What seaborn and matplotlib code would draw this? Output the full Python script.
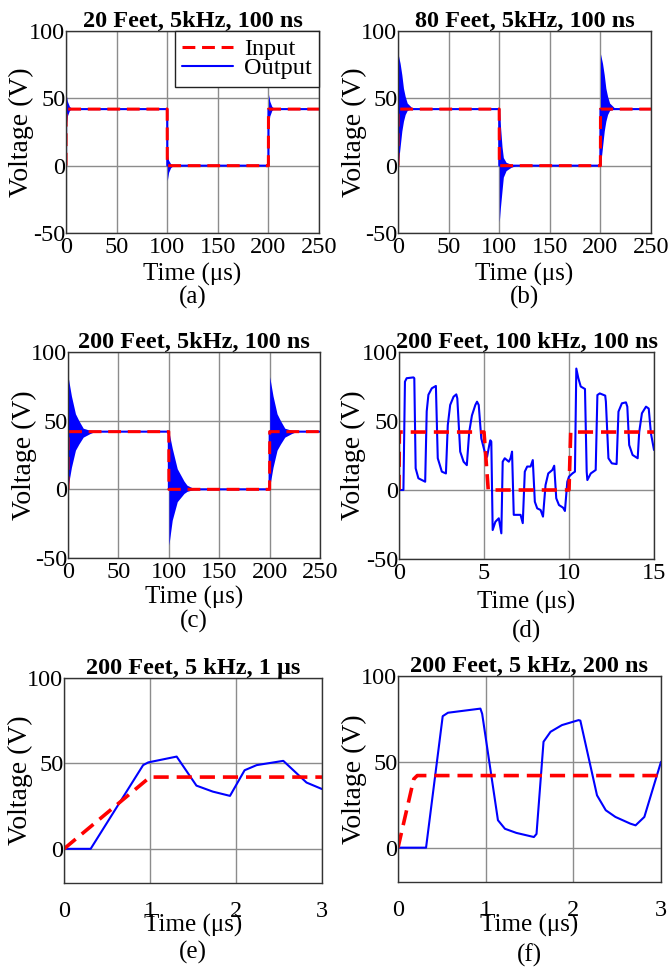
import matplotlib
matplotlib.use("Agg")
import matplotlib.pyplot as plt
import seaborn as sns
import numpy as np

# --- DATA ---
# square-wave runs, panels (a)-(c): input edges and the ideal output level
SQ_T = [0, 0.1, 100, 100.1, 200, 200.1, 250]
SQ_V = [0, 42, 42, 0, 0, 42, 42]
RISE_EDGES = [0, 200]
FALL_EDGES = [100]

# ringing envelopes after each edge (time after edge in us, volts)
A_RISE_DT = [0, 1.3, 3.3, 5.7]
A_RISE_HI = [53, 47.8, 44, 42.5]
A_RISE_LO = [30, 37, 41, 42.5]
A_FALL_DT = [0, 1.3, 3.3, 5.7]
A_FALL_HI = [8, 4, 1.5, 0]
A_FALL_LO = [-11, -5, -1.5, 0]

B_RISE_DT = [0, 2, 3.7, 5.3, 7, 9, 13.7, 18]
B_RISE_HI = [83, 76, 67.5, 57.5, 51.5, 46.5, 43, 42.5]
B_RISE_LO = [0, 14, 25.7, 33, 38, 41, 42.5, 42.5]
B_FALL_DT = [0, 1, 2.7, 4, 6.7, 11.7, 16]
B_FALL_HI = [42, 31, 14, 6, 2.5, 1, 0]
B_FALL_LO = [-41.5, -32, -18.5, -8.5, -3.7, -1.2, 0]

C_RISE_DT = [0, 3.3, 7.3, 10.7, 15, 21.7, 28]
C_RISE_HI = [82, 68, 55, 50, 44.5, 43, 42.5]
C_RISE_LO = [2, 16, 28.5, 33, 38, 40.6, 42.5]
C_FALL_DT = [0, 3.3, 8.3, 15, 18, 25, 28]
C_FALL_HI = [42, 30, 15, 6, 3, 0.5, 0]
C_FALL_LO = [-40.5, -22.5, -9, -3, -1.5, 0, 0]

# panel (d): 100 kHz
D_IN_T = [0, 0.02, 5.0, 5.25, 10.0, 10.1, 15]
D_IN_V = [0, 42, 42, 0, 0, 42, 42]
D_OUT_T = [0, 0.26, 0.35, 0.45, 0.85, 0.9, 0.98, 1.14, 1.54, 1.63, 1.73, 1.93,
           2.17, 2.28, 2.52, 2.76, 2.87, 3.01, 3.21, 3.37, 3.43, 3.6, 3.8, 3.99,
           4.13, 4.29, 4.49, 4.59, 4.69, 4.84, 5.04, 5.18, 5.31, 5.37, 5.43, 5.51,
           5.67, 5.87, 6.02, 6.1, 6.22, 6.46, 6.56, 6.65, 6.75, 6.95, 7.15, 7.28,
           7.4, 7.54, 7.74, 7.87, 7.99, 8.13, 8.33, 8.47, 8.62, 8.78, 9.02, 9.13,
           9.25, 9.41, 9.65, 9.76, 9.9, 10.0, 10.2, 10.35, 10.43, 10.55, 10.69, 10.94,
           11.04, 11.08, 11.28, 11.57, 11.67, 11.81, 12.13, 12.17, 12.32, 12.52, 12.8, 12.91,
           13.11, 13.35, 13.43, 13.54, 13.74, 14.04, 14.13, 14.29, 14.53, 14.69, 14.82, 15.0]
D_OUT_V = [0, 0, 78.5, 81, 81.6, 81, 15.7, 8.5, 6, 57, 69, 73.7,
           75.4, 23, 13.3, 12, 47, 61.6, 67.6, 69.3, 66.4, 27.8, 20.5, 18,
           42, 54, 61.6, 64, 61.6, 37.4, 27.8, 24, 32.6, 36, 35, -29,
           -23, -20.5, -31.4, 20.5, 23, 20.5, 23, 27.8, -18, -18, -18, -24,
           13.3, 17, 17, 21.7, -8.5, -13.3, -14.5, -19.3, 3.6, 12, 14.5, 17.6,
           -6, -10.9, -12.8, -15.2, 6, 9.7, 12, 13.3, 88, 81, 75, 73.2,
           13.3, 7.2, 12, 14.5, 68.8, 70, 68.4, 64, 23, 19.3, 18.8, 56.8,
           62.8, 63.5, 60.4, 32.6, 25.4, 23, 42, 55.6, 60.4, 59, 41, 29]

# panel (e): 1 us rise
E_IN_T = [0, 1.0, 3]
E_IN_V = [0, 42, 42]
E_OUT_T = [0, 0.31, 0.92, 0.98, 1.31, 1.54, 1.73, 1.93, 2.1, 2.24, 2.55, 2.82, 3.0]
E_OUT_V = [0, 0, 49, 50.6, 54, 37, 33.5, 31, 46, 49, 51.5, 38.8, 35]

# panel (f): 200 ns rise
F_IN_T = [0, 0.18, 0.22, 3]
F_IN_V = [0, 40, 42, 42]
F_OUT_T = [0, 0.32, 0.51, 0.57, 0.94, 0.96, 1.14, 1.22, 1.35, 1.55, 1.58, 1.66,
           1.74, 1.87, 2.06, 2.08, 2.27, 2.37, 2.48, 2.65, 2.71, 2.81, 3.0]
F_OUT_V = [0, 0, 76.6, 78.6, 81, 78, 16, 11, 8.6, 6.2, 8, 61.7,
           67.5, 71.4, 74.3, 74, 30.5, 21.8, 17.9, 14, 13, 17.9, 50]

TITLES = ["20 Feet, 5kHz, 100 ns", "80 Feet, 5kHz, 100 ns", "200 Feet, 5kHz, 100 ns",
          "200 Feet, 100 kHz, 100 ns", "200 Feet, 5 kHz, 1 \u03bcs", "200 Feet, 5 kHz, 200 ns"]
LETTERS = ["(a)", "(b)", "(c)", "(d)", "(e)", "(f)"]

# --- STYLE ---
sns.set_style("white")
plt.rcParams["font.family"] = ["Liberation Serif", "DejaVu Serif"]
plt.rcParams["axes.unicode_minus"] = False
plt.rcParams["text.color"] = "black"
plt.rcParams["axes.labelcolor"] = "black"

W, H = 670, 969
fig = plt.figure(figsize=(W / 100, H / 100), dpi=100)

# axes boxes in pixels: left, right, top, bottom
BOXES = [(66, 319, 31, 233), (398, 651, 31, 233),
         (68, 320, 352, 558), (399, 654, 352, 559),
         (64, 322, 678, 883), (398, 661, 676, 882)]
XLAB_Y = [-0.205, -0.205, -0.19, -0.208, -0.205, -0.209]
LET_Y = [-0.32, -0.32, -0.31, -0.35, -0.337, -0.354]
YLAB_X = [-0.178, -0.174, -0.174, -0.177, -0.168, -0.166]

BLUE = "#0000ff"
RED = "#ff0000"
DASH = (4.2, 2.2)
TICK_FS = 17.5
LAB_FS = 18
YLAB_FS = 20
TITLE_FS = 17.5


def make_ax(i):
    l, r, t, b = BOXES[i]
    ax = fig.add_axes([l / W, 1 - b / H, (r - l) / W, (b - t) / H])
    return ax


def dress(ax, i, xlim, xticks, ylim, yticks, xpad):
    ax.set_xlim(*xlim)
    ax.set_ylim(*ylim)
    ax.set_xticks(xticks)
    ax.set_yticks(yticks)
    ax.grid(True, color="#8c8c8c", lw=1.0)
    ax.set_axisbelow(True)
    ax.tick_params(length=0, labelsize=TICK_FS, colors="black")
    ax.tick_params(axis="x", pad=xpad)
    ax.tick_params(axis="y", pad=0.5)
    for s in ax.spines.values():
        s.set_color("#333333")
        s.set_linewidth(1.0)
    ax.set_title(TITLES[i], fontsize=TITLE_FS, fontweight="bold", pad=3, color="black")
    ax.set_xlabel("Time (\u03bcs)", fontsize=LAB_FS)
    ax.xaxis.label.set_va("center")
    ax.xaxis.set_label_coords(0.5, XLAB_Y[i])
    ax.set_ylabel("Voltage (V)", fontsize=YLAB_FS)
    ax.yaxis.label.set_va("center")
    ax.yaxis.set_label_coords(YLAB_X[i], 0.5)
    ax.text(0.5, LET_Y[i], LETTERS[i], transform=ax.transAxes, ha="center",
            va="center", fontsize=LAB_FS)


def square_panel(i, rise, fall):
    ax = make_ax(i)
    for e in RISE_EDGES:
        ax.fill_between(e + 0.1 + np.array(rise[0]), rise[2], rise[1], color=BLUE, lw=0)
    for e in FALL_EDGES:
        ax.fill_between(e + 0.1 + np.array(fall[0]), fall[2], fall[1], color=BLUE, lw=0)
    sns.lineplot(x=SQ_T, y=SQ_V, ax=ax, color=BLUE, lw=1.5, estimator=None,
                 sort=False, label="Output")
    sns.lineplot(x=SQ_T, y=SQ_V, ax=ax, color=RED, lw=2.2, estimator=None,
                 sort=False, label="Input")
    ax.lines[-1].set_dashes(DASH)
    dress(ax, i, (0, 250), [0, 50, 100, 150, 200, 250], (-50, 100), [-50, 0, 50, 100], 3)
    return ax


ax_a = square_panel(0, (A_RISE_DT, A_RISE_HI, A_RISE_LO), (A_FALL_DT, A_FALL_HI, A_FALL_LO))
ax_b = square_panel(1, (B_RISE_DT, B_RISE_HI, B_RISE_LO), (B_FALL_DT, B_FALL_HI, B_FALL_LO))
ax_c = square_panel(2, (C_RISE_DT, C_RISE_HI, C_RISE_LO), (C_FALL_DT, C_FALL_HI, C_FALL_LO))

# legend only on (a), Input first
h, lab = ax_a.get_legend_handles_labels()
leg = ax_a.legend([h[1], h[0]], [lab[1], lab[0]], loc="upper right", fontsize=TICK_FS,
                  frameon=True, fancybox=False, edgecolor="#222222", framealpha=1,
                  borderaxespad=0, borderpad=0.3, labelspacing=-0.12,
                  handlelength=2.1, handletextpad=0.45)
leg.get_frame().set_linewidth(1.0)
for a in (ax_b, ax_c):
    if a.get_legend():
        a.get_legend().remove()


def wave_panel(i, in_t, in_v, out_t, out_v, xlim, xticks, ylim, yticks, xpad):
    ax = make_ax(i)
    sns.lineplot(x=out_t, y=out_v, ax=ax, color=BLUE, lw=1.5, estimator=None, sort=False)
    sns.lineplot(x=in_t, y=in_v, ax=ax, color=RED, lw=2.6, estimator=None, sort=False)
    ax.lines[-1].set_dashes(DASH)
    dress(ax, i, xlim, xticks, ylim, yticks, xpad)
    return ax


wave_panel(3, D_IN_T, D_IN_V, D_OUT_T, D_OUT_V, (0, 15), [0, 5, 10, 15],
           (-50, 100), [-50, 0, 50, 100], 3)
wave_panel(4, E_IN_T, E_IN_V, E_OUT_T, E_OUT_V, (0, 3), [0, 1, 2, 3],
           (-20, 100), [0, 50, 100], 13)
wave_panel(5, F_IN_T, F_IN_V, F_OUT_T, F_OUT_V, (0, 3), [0, 1, 2, 3],
           (-20, 100), [0, 50, 100], 13)

fig.savefig("out.png", dpi=100)
